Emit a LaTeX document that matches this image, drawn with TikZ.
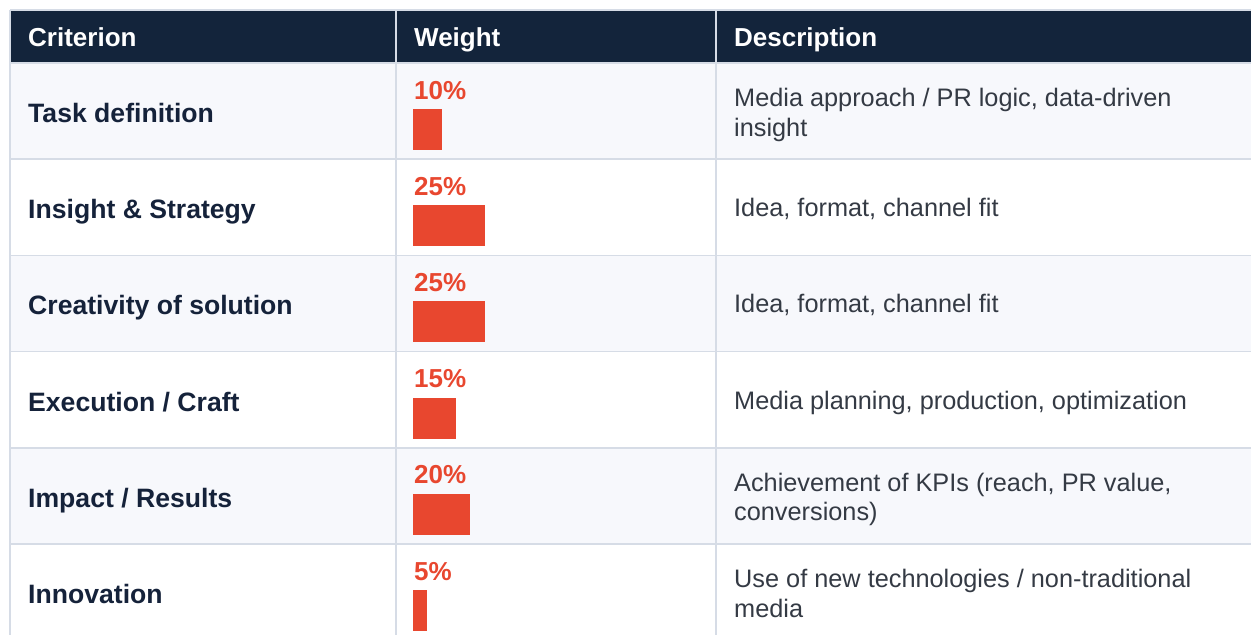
\documentclass[tikz,border=0pt]{standalone}
\usepackage{fontspec}
\setmainfont{Liberation Sans}
\usetikzlibrary{calc}
\definecolor{headnavy}{HTML}{13243B}
\definecolor{rowtint}{HTML}{F7F8FC}
\definecolor{gridgray}{HTML}{D6DCE6}
\definecolor{critnavy}{HTML}{15223A}
\definecolor{descgray}{HTML}{343A44}
\definecolor{barred}{HTML}{E8472F}
\tikzset{
  head/.style={anchor=base west, inner sep=0pt, text=white, font=\fontsize{26}{30}\selectfont\bfseries},
  crit/.style={anchor=base west, inner sep=0pt, text=critnavy, font=\fontsize{26.6}{30}\selectfont\bfseries},
  pct/.style={anchor=base west, inner sep=0pt, text=barred, font=\fontsize{26}{30}\selectfont\bfseries},
  desc/.style={anchor=base west, align=left, inner sep=0pt, text=descgray, font=\fontsize{25.3}{29.3}\selectfont},
  bar/.style={fill=barred, draw=none},
}
\begin{document}
\begin{tikzpicture}[x=1pt,y=-1pt]
    \useasboundingbox (0,0) rectangle (1251,635);
    \coordinate (R1) at (0,63);    \coordinate (R2) at (0,159.2); \coordinate (R3) at (0,255.4);
    \coordinate (R4) at (0,351.6); \coordinate (R5) at (0,447.8); \coordinate (R6) at (0,544);
    % header and tinted rows
    \fill[headnavy] (10,10) rectangle (1251,63);
    \fill[rowtint] ($(R1)+(10,0)$) rectangle ($(R2)+(1251,0)$);
    \fill[rowtint] ($(R3)+(10,0)$) rectangle ($(R4)+(1251,0)$);
    \fill[rowtint] ($(R5)+(10,0)$) rectangle ($(R6)+(1251,0)$);
    % grid
    \draw[gridgray, line width=1.5pt] (10,10) -- (1251,10);
    \draw[gridgray, line width=1.5pt] (10,10) -- (10,635) (396,10) -- (396,635) (716,10) -- (716,635);
    \draw[gridgray, line width=1.5pt] ($(R1)+(10,0)$) -- ++(1241,0) ($(R2)+(10,0)$) -- ++(1241,0)
        ($(R3)+(10,0)$) -- ++(1241,0) ($(R4)+(10,0)$) -- ++(1241,0)
        ($(R5)+(10,0)$) -- ++(1241,0) ($(R6)+(10,0)$) -- ++(1241,0);
    % header texts
    \node[head] (hCrit)   at (28,46)  {Criterion};
    \node[head] (hWeight) at (414,46) {Weight};
    \node[head] (hDesc)   at (734,46) {Description};
    % criteria
    \node[crit] (c1) at ($(R1)+(28,59.5)$) {Task definition};
    \node[crit] (c2) at ($(R2)+(28,59.5)$) {Insight \& Strategy};
    \node[crit] (c3) at ($(R3)+(28,59.5)$) {Creativity of solution};
    \node[crit] (c4) at ($(R4)+(28,59.5)$) {Execution / Craft};
    \node[crit] (c5) at ($(R5)+(28,59.5)$) {Impact / Results};
    \node[crit] (c6) at ($(R6)+(28,59.5)$) {Innovation};
    % weights
    \node[pct] (w1) at ($(R1)+(414,36)$) {10\%}; \fill[bar] ($(R1)+(413,46)$) rectangle ++(29,41);
    \node[pct] (w2) at ($(R2)+(414,36)$) {25\%}; \fill[bar] ($(R2)+(413,46)$) rectangle ++(72,41);
    \node[pct] (w3) at ($(R3)+(414,36)$) {25\%}; \fill[bar] ($(R3)+(413,46)$) rectangle ++(72,41);
    \node[pct] (w4) at ($(R4)+(414,36)$) {15\%}; \fill[bar] ($(R4)+(413,46)$) rectangle ++(43,41);
    \node[pct] (w5) at ($(R5)+(414,36)$) {20\%}; \fill[bar] ($(R5)+(413,46)$) rectangle ++(57,41);
    \node[pct] (w6) at ($(R6)+(414,36)$) {5\%};  \fill[bar] ($(R6)+(413,46)$) rectangle ++(14,41);
    % descriptions (base = last line)
    \node[desc] (d1) at ($(R1)+(734,73)$) {Media approach / PR logic, data-driven\\insight};
    \node[desc] (d2) at ($(R2)+(734,57.5)$) {Idea, format, channel fit};
    \node[desc] (d3) at ($(R3)+(734,57.5)$) {Idea, format, channel fit};
    \node[desc] (d4) at ($(R4)+(734,57.5)$) {Media planning, production, optimization};
    \node[desc] (d5) at ($(R5)+(734,73)$) {Achievement of KPIs (reach, PR value,\\conversions)};
    \node[desc] (d6) at ($(R6)+(734,73)$) {Use of new technologies / non-traditional\\media};
\end{tikzpicture}
\end{document}
